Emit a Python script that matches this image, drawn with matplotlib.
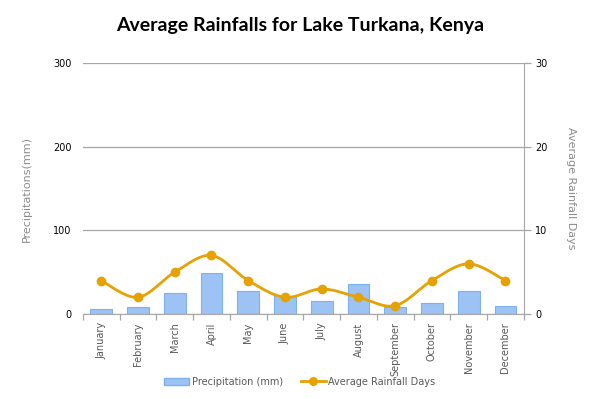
import numpy as np
import matplotlib
matplotlib.use("Agg")
import matplotlib.pyplot as plt
from matplotlib.lines import Line2D
from matplotlib.patches import Patch

months = ["January", "February", "March", "April", "May", "June", "July",
          "August", "September", "October", "November", "December"]
precip_mm = [6, 8, 25, 49, 27, 21, 16, 36, 8, 13, 27, 10]
rain_days = [4, 2, 5, 7, 4, 2, 3, 2, 1, 4, 6, 4]
left_ticks = [0, 100, 200, 300]
right_ticks = [0, 10, 20, 30]

BAR_FC = "#9DC3F4"
BAR_EC = "#7DB0EE"
LINE_C = "#E5A202"
GRID_C = "#A6A6A6"
LABEL_C = "#8C8C8C"


def smooth_curve(x, y, n=20, tension=0.5):
    """Catmull-Rom style smoothing for drawing only (Excel 'smoothed line')."""
    x = np.asarray(x, float)
    y = np.asarray(y, float)
    px = np.concatenate([[x[0]], x, [x[-1]]])
    py = np.concatenate([[y[0]], y, [y[-1]]])
    xs, ys = [], []
    for i in range(1, len(px) - 2):
        p0 = np.array([px[i - 1], py[i - 1]])
        p1 = np.array([px[i], py[i]])
        p2 = np.array([px[i + 1], py[i + 1]])
        p3 = np.array([px[i + 2], py[i + 2]])
        c1 = p1 + (p2 - p0) * tension / 3
        c2 = p2 - (p3 - p1) * tension / 3
        t = np.linspace(0, 1, n)[:, None]
        pts = ((1 - t) ** 3) * p1 + 3 * ((1 - t) ** 2) * t * c1 + 3 * (1 - t) * t ** 2 * c2 + t ** 3 * p2
        xs.extend(pts[:, 0])
        ys.extend(pts[:, 1])
    return np.array(xs), np.array(ys)


plt.rcParams['font.family'] = ['DejaVu Sans']

fig = plt.figure(figsize=(6, 3.99), dpi=100)
ax = fig.add_axes([0.138, 0.213, 0.735, 0.629])
ax2 = ax.twinx()

x = np.arange(len(months))
ax.bar(x, precip_mm, width=0.59, color=BAR_FC, edgecolor=BAR_EC, linewidth=0.8, zorder=2)
ax.set_ylim(0, 300)
ax.set_xlim(-0.5, len(months) - 0.5)
ax.set_yticks(left_ticks)
ax.set_yticklabels([str(v) for v in left_ticks], fontsize=7)
ax.yaxis.grid(True, color=GRID_C, linewidth=0.9, zorder=0)
ax.set_axisbelow(True)
ax.tick_params(axis='y', length=0, pad=8)

ax.set_xticks(x)
ax.set_xticklabels(months, rotation=90, fontsize=7, color="#595959")
ax.tick_params(axis='x', which='major', length=0, pad=6)
ax.set_xticks(np.arange(-0.5, len(months), 1.0), minor=True)
ax.tick_params(axis='x', which='minor', length=4, color=GRID_C, width=0.9)

for s in ['left', 'top']:
    ax.spines[s].set_visible(False)
    ax2.spines[s].set_visible(False)
ax.spines['bottom'].set_color(GRID_C)
ax2.spines['bottom'].set_visible(False)
ax.spines['right'].set_visible(False)
ax2.spines['right'].set_color(GRID_C)

ax.set_ylabel("Precipitations(mm)", color=LABEL_C, fontsize=8, labelpad=15)

sx, sy = smooth_curve(x, rain_days)
ax2.plot(sx, sy, color=LINE_C, linewidth=2.0, zorder=3, solid_capstyle='round')
ax2.plot(x, rain_days, linestyle='none', marker='o', markersize=6, color=LINE_C, zorder=4)
ax2.set_ylim(0, 30)
ax2.set_yticks(right_ticks)
ax2.set_yticklabels([str(v) for v in right_ticks], fontsize=7)
ax2.tick_params(axis='y', length=5, color=GRID_C, width=0.9, pad=3)
ax2.set_ylabel("Average Rainfall Days", color=LABEL_C, fontsize=8, rotation=-90, labelpad=21)

fig.text(0.5, 1 - 25 / 399, "Average Rainfalls for Lake Turkana, Kenya", ha='center', va='center',
         fontsize=14, fontweight='bold', family=['Lato', 'DejaVu Sans'])

handles = [Patch(facecolor=BAR_FC, edgecolor=BAR_EC, label="Precipitation (mm)"),
           Line2D([0], [0], color=LINE_C, linewidth=2.0, marker='o', markersize=5.5,
                  label="Average Rainfall Days")]
fig.legend(handles=handles, loc='center', bbox_to_anchor=(0.5, 0.043), ncol=2,
           frameon=False, fontsize=7, labelcolor="#595959", handlelength=2.5,
           columnspacing=1.9, handletextpad=0.3)

fig.savefig("out.png", dpi=100)
